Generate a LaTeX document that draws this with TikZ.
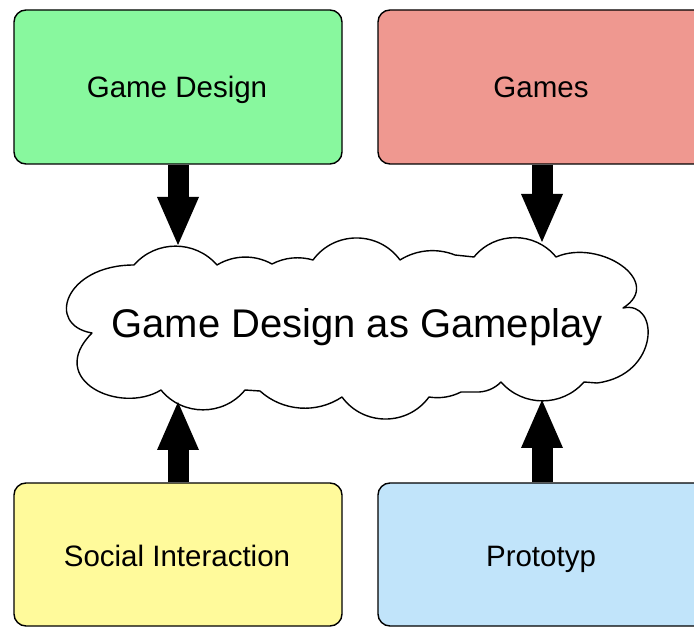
\documentclass[tikz,border=0pt]{standalone}
\usepackage{fontspec}
\setmainfont{Liberation Sans}
\usetikzlibrary{arrows.meta}

\definecolor{boxgreen}{RGB}{136,248,158}
\definecolor{boxred}{RGB}{239,152,144}
\definecolor{boxyellow}{RGB}{255,250,155}
\definecolor{boxblue}{RGB}{193,228,250}

\tikzset{
  topicbox/.style={draw=black, line width=1.4pt, rounded corners=12pt,
    minimum width=328pt, inner sep=0pt},
  topiclabel/.style={anchor=base, inner sep=0pt,
    font=\fontsize{29.5}{34}\selectfont},
  fatarrow/.style={line width=21pt,
    -{Triangle[width=42pt,length=48pt,line width=0pt]}},
  cloudline/.style={draw=black, fill=white, line width=1.4pt, line join=round},
}

\begin{document}
\begin{tikzpicture}[x=1pt, y=-1pt]
  \useasboundingbox (0,0) rectangle (694,628);
  \clip (0,0) rectangle (694,628);

  % the four source boxes
  \node[topicbox, fill=boxgreen,  minimum height=154pt] (design)  at (178,87) {};
  \node[topicbox, fill=boxred,    minimum height=154pt] (games)   at (542,87) {};
  \node[topicbox, fill=boxyellow, minimum height=143pt] (social)  at (178,554.5) {};
  \node[topicbox, fill=boxblue,   minimum height=143pt] (proto)   at (542,554.5) {};

  \node[topiclabel] (designtxt) at (177,97.5)  {Game Design};
  \node[topiclabel] (gamestxt)  at (541,97.5)  {Games};
  \node[topiclabel] (socialtxt) at (177,566.7) {Social Interaction};
  \node[topiclabel] (prototxt)  at (541,566.7) {Prototyp};

  % the cloud
  \path[cloudline]
    (134,265)
    to[bend left=49, looseness=1.03]  (217,265)
    to[bend left=30, looseness=0.92]  (272,264)
    to[bend left=22, looseness=0.88]  (313,260)
    to[bend left=54, looseness=1.07]  (400,260)
    to[bend left=27, looseness=0.90]  (455,255)
    -- (474,257)
    to[bend left=51, looseness=1.04]  (556,257)
    .. controls (600,238) and (665,282) .. (623,308)
    .. controls (660,300) and (660,375) .. (597,383)
    -- (584,382)
    to[bend left=49, looseness=1.03]  (501,382)
    to[bend left=24, looseness=0.90]  (476,392)
    -- (461,392)
    to[bend left=18, looseness=0.88]  (429,397)
    to[bend left=54, looseness=1.07]  (342,397)
    to[bend left=38, looseness=0.95]  (260,391)
    -- (245,390)
    to[bend left=51, looseness=1.04]  (161,390)
    .. controls (120,415) and (45,380) .. (92,333)
    .. controls (45,325) and (65,265) .. (134,265)
    -- cycle;

  \node[anchor=base, inner sep=0pt, font=\fontsize{40}{46}\selectfont]
    (cloudtxt) at (357,338) {Game Design as Gameplay};

  % points where the arrows meet the cloud outline
  \coordinate (cloudNW) at (178,245);
  \coordinate (cloudNE) at (542,242);
  \coordinate (cloudSW) at (178,402);
  \coordinate (cloudSE) at (542,400);

  % connectors
  \draw[fatarrow] (design.south) -- (cloudNW);
  \draw[fatarrow] (games.south)  -- (cloudNE);
  \draw[fatarrow] (social.north) -- (cloudSW);
  \draw[fatarrow] (proto.north)  -- (cloudSE);
\end{tikzpicture}
\end{document}
